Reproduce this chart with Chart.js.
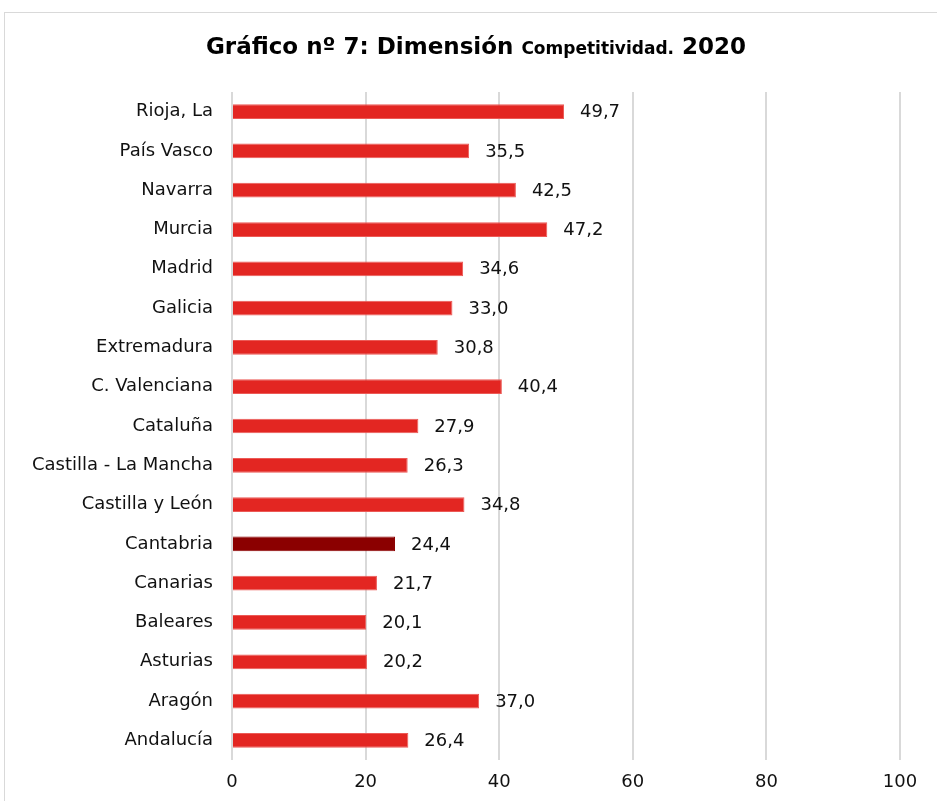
<!DOCTYPE html>
<html>
<head>
<meta charset="utf-8">
<script src="https://cdn.jsdelivr.net/npm/chart.js@4/dist/chart.umd.min.js"></script>
<style>
  html, body { margin: 0; padding: 0; background: #fff; }
  #wrap { width: 937px; height: 801px; }
</style>
</head>
<body>
<div id="wrap"><canvas id="chart"></canvas></div>
<script>
// regions, top to bottom as in the picture
const regions = ['Rioja, La', 'País Vasco', 'Navarra', 'Murcia', 'Madrid', 'Galicia', 'Extremadura',
    'C. Valenciana', 'Cataluña', 'Castilla - La Mancha', 'Castilla y León', 'Cantabria',
    'Canarias', 'Baleares', 'Asturias', 'Aragón', 'Andalucía'];
const values = [49.7, 35.5, 42.5, 47.2, 34.6, 33.0, 30.8, 40.4, 27.9, 26.3, 34.8, 24.4, 21.7, 20.1, 20.2, 37.0, 26.4];
const highlight = 'Cantabria';
const xTicks = [0, 20, 40, 60, 80, 100];

const FONT = 'DejaVu Sans, Verdana, sans-serif';

const barColors = regions.map(r => r === highlight ? '#8B0000' : '#E32622');
const borderColors = regions.map(r => r === highlight ? '#8B0000' : '#EC5a56');

// frame + title
const decorPlugin = {
    id: 'decor',
    beforeDraw(chart) {
        const c = chart.ctx;
        c.save();
        c.strokeStyle = '#d9d9d9';
        c.lineWidth = 1;
        c.strokeRect(4.5, 12.5, 960, 820);
        c.restore();
    },
    afterDraw(chart) {
        const c = chart.ctx;
        c.save();
        c.fillStyle = '#000';
        c.textBaseline = 'alphabetic';
        const parts = [
            { t: 'Gráfico nº 7: Dimensión ', f: 'bold 23px ' + FONT },
            { t: 'Competitividad.', f: 'bold 17px ' + FONT },
            { t: ' 2020', f: 'bold 23px ' + FONT }
        ];
        let total = 0;
        parts.forEach(p => { c.font = p.f; p.w = c.measureText(p.t).width; total += p.w; });
        let x = 476 - total / 2;
        parts.forEach(p => {
            c.font = p.f;
            c.fillText(p.t, x, 54);
            x += p.w;
        });
        c.restore();
    }
};

// value labels at bar ends
const valueLabels = {
    id: 'valueLabels',
    afterDatasetsDraw(chart) {
        const c = chart.ctx;
        const meta = chart.getDatasetMeta(0);
        c.save();
        c.font = '18px ' + FONT;
        c.fillStyle = '#111';
        c.textAlign = 'left';
        c.textBaseline = 'middle';
        meta.data.forEach((bar, i) => {
            c.fillText(values[i].toFixed(1).replace('.', ','), bar.x + 16, bar.y + 1);
        });
        c.restore();
    }
};

new Chart(document.getElementById('chart'), {
    type: 'bar',
    data: {
        labels: regions,
        datasets: [{
            data: values,
            backgroundColor: barColors,
            borderColor: borderColors,
            borderWidth: 1,
            barPercentage: 0.75,
            categoryPercentage: 0.5
        }]
    },
    options: {
        indexAxis: 'y',
        responsive: true,
        maintainAspectRatio: false,
        animation: false,
        layout: { padding: { top: 92, right: 37, left: 0, bottom: 0 } },
        plugins: {
            legend: { display: false },
            tooltip: { enabled: false }
        },
        scales: {
            x: {
                min: 0,
                max: 100,
                afterBuildTicks(s) { s.ticks = xTicks.map(v => ({ value: v })); },
                afterFit(s) { s.height = 41; },
                grid: { color: '#d9d9d9', lineWidth: 2, drawTicks: false },
                border: { display: false },
                ticks: { color: '#111', font: { family: FONT, size: 18 }, padding: 12 }
            },
            y: {
                afterFit(s) { s.width = 232; },
                grid: { display: false, drawTicks: false },
                border: { display: false },
                ticks: { color: '#111', font: { family: FONT, size: 18 }, padding: 19 }
            }
        }
    },
    plugins: [decorPlugin, valueLabels]
});
</script>
</body>
</html>
